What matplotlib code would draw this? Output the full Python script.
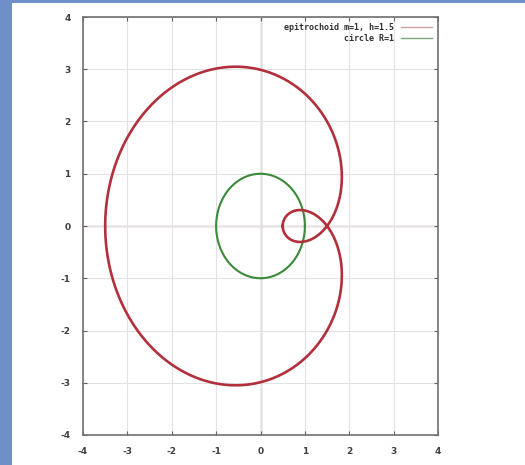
import numpy as np
import matplotlib
matplotlib.use("Agg")
import matplotlib.pyplot as plt
from matplotlib.patches import Rectangle

plt.rcParams["axes.unicode_minus"] = False

m = 1.0          # epitrochoid ratio
h = 1.5          # epitrochoid pen distance
R_circle = 1.0   # circle radius
x_ticks = [-4, -3, -2, -1, 0, 1, 2, 3, 4]
y_ticks = [-4, -3, -2, -1, 0, 1, 2, 3, 4]
labels = ["epitrochoid m=1, h=1.5", "circle R=1"]

t = np.linspace(0, 2 * np.pi, 1000)
ex = (1 + m) * np.cos(t) - h * np.cos((1 + m) / m * t)
ey = (1 + m) * np.sin(t) - h * np.sin((1 + m) / m * t)
cx = R_circle * np.cos(t)
cy = R_circle * np.sin(t)

fig = plt.figure(figsize=(5.25, 4.65), dpi=100)
fig.patch.set_facecolor("white")

# slide frame strips (blue) on left and top
fig.patches.append(Rectangle((0, 0), 12 / 525, 1, transform=fig.transFigure,
                             facecolor="#6f8fc8", edgecolor="none", zorder=0))
fig.patches.append(Rectangle((0, 1 - 3 / 465), 1, 3 / 465, transform=fig.transFigure,
                             facecolor="#6f8fc8", edgecolor="none", zorder=0))

ax = fig.add_axes([83 / 525, 1 - 435 / 465, (438 - 83) / 525, (435 - 17) / 465])
ax.set_xlim(-4, 4)
ax.set_ylim(-4, 4)
ax.set_xticks(x_ticks)
ax.set_yticks(y_ticks)
ax.grid(True, color="#e2e2e2", lw=0.8)
ax.axhline(0, color="#d8a0a8", lw=1.0, zorder=1)
ax.axvline(0, color="#9a9a9a", lw=1.0, zorder=1)

ax.plot(ex, ey, color="#b2303c", lw=1.9, label=labels[0], zorder=3)
ax.plot(cx, cy, color="#3a8a3a", lw=1.5, label=labels[1], zorder=2)

for s in ax.spines.values():
    s.set_color("#707070")
    s.set_linewidth(1.2)
ax.tick_params(direction="in", length=3, color="#606060", labelsize=6.5,
               labelcolor="#404040", top=True, right=True, pad=9)
for lab in ax.get_xticklabels() + ax.get_yticklabels():
    lab.set_fontweight("bold")

leg = ax.legend(loc="upper right", frameon=False, markerfirst=False,
                prop={"family": "DejaVu Sans Mono", "size": 6, "weight": "bold"},
                handlelength=3.8, borderaxespad=0.3, labelspacing=0.3,
                handletextpad=0.8)
for txt in leg.get_texts():
    txt.set_color("#303030")
for hl in leg.get_lines():
    hl.set_linewidth(1.0)
leg.get_lines()[0].set_color("#c8a0a4")
leg.get_lines()[1].set_color("#7aa87a")

fig.savefig("out.png", dpi=100)
